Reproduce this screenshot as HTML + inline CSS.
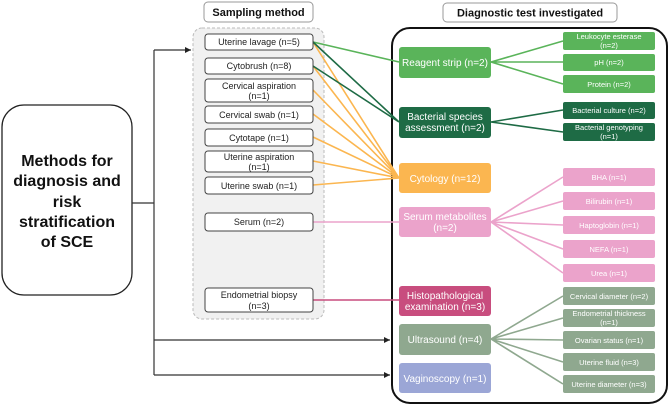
<!DOCTYPE html>
<html><head><meta charset="utf-8"><style>
body{margin:0;background:#fff;width:669px;height:406px;overflow:hidden}
svg text{font-family:"Liberation Sans",sans-serif}
</style></head><body>
<svg width="669" height="406" viewBox="0 0 669 406" xmlns="http://www.w3.org/2000/svg">
<defs><marker id="a" markerWidth="6" markerHeight="6" refX="5" refY="3" orient="auto"><path d="M0,0.5 L5,3 L0,5.5z" fill="#222"/></marker></defs>
<!-- main box -->
<rect x="2" y="105" width="130" height="190" rx="22" fill="#fff" stroke="#222" stroke-width="1.3"/>
<g font-weight="bold" font-size="16" fill="#111" text-anchor="middle">
<text x="67" y="166">Methods for</text><text x="67" y="186">diagnosis and</text><text x="67" y="207">risk</text><text x="67" y="227">stratification</text><text x="67" y="247">of SCE</text></g>
<!-- connectors from main -->
<g stroke="#333" stroke-width="1.2" fill="none">
<path d="M132,203 H154"/><path d="M154,50 V375"/>
<path d="M154,50 H191" marker-end="url(#a)"/>
<path d="M154,340 H390" marker-end="url(#a)"/>
<path d="M154,375 H390" marker-end="url(#a)"/>
</g>
<!-- headers -->
<rect x="204" y="2" width="109" height="20" rx="4" fill="#fff" stroke="#999"/>
<text x="258.5" y="16" font-size="11" font-weight="bold" text-anchor="middle" fill="#111">Sampling method</text>
<rect x="443" y="3" width="174" height="19" rx="4" fill="#fff" stroke="#999"/>
<text x="530" y="16.5" font-size="11" font-weight="bold" text-anchor="middle" fill="#111">Diagnostic test investigated</text>
<!-- gray dashed -->
<rect x="193" y="28" width="131" height="291" rx="9" fill="#f1f1f1" stroke="#bbb" stroke-dasharray="3,2"/>
<!-- big right box -->
<rect x="392" y="28" width="275" height="375" rx="18" fill="#fff" stroke="#111" stroke-width="2"/>
<!-- lines sampling -> tests -->
<g stroke-width="1.6" fill="none">
<path d="M313,42 L399,178 M313,66 L399,178 M313,90 L399,178 M313,114 L399,178 M313,137 L399,178 M313,161 L399,178 M313,185 L399,178" stroke="#fbb650"/>
<path d="M313,42 L399,62" stroke="#5ab45a"/>
<path d="M313,42 L399,122 M313,66 L399,122" stroke="#1e6b45"/>
<path d="M313,222 L399,222" stroke="#eba3cb"/>
<path d="M313,300 L399,300" stroke="#c84d7e"/>
<!-- tests -> subs -->
<path d="M491,62 L563,41 M491,62 L563,62 M491,62 L563,84" stroke="#5ab45a"/>
<path d="M491,122 L563,110 M491,122 L563,132" stroke="#1e6b45"/>
<path d="M491,222 L563,177 M491,222 L563,201 M491,222 L563,225 M491,222 L563,249 M491,222 L563,273" stroke="#eba3cb"/>
<path d="M491,339 L563,296 M491,339 L563,318 M491,339 L563,340 M491,339 L563,362 M491,339 L563,384" stroke="#8fa88f"/>
</g>
<!-- sampling boxes -->
<g fill="#fff" stroke="#444" stroke-width="1">
<rect x="205" y="34" width="108" height="16" rx="3"/>
<rect x="205" y="58" width="108" height="16" rx="3"/>
<rect x="205" y="79" width="108" height="23" rx="3"/>
<rect x="205" y="106" width="108" height="17" rx="3"/>
<rect x="205" y="129" width="108" height="17" rx="3"/>
<rect x="205" y="151" width="108" height="21" rx="3"/>
<rect x="205" y="177" width="108" height="17" rx="3"/>
<rect x="205" y="213" width="108" height="18" rx="3"/>
<rect x="205" y="288" width="108" height="24" rx="3"/>
</g>
<g font-size="9" fill="#222" text-anchor="middle">
<text x="259" y="45">Uterine lavage (n=5)</text>
<text x="259" y="69">Cytobrush (n=8)</text>
<text x="259" y="89">Cervical aspiration</text><text x="259" y="99">(n=1)</text>
<text x="259" y="118">Cervical swab (n=1)</text>
<text x="259" y="141">Cytotape (n=1)</text>
<text x="259" y="160">Uterine aspiration</text><text x="259" y="170">(n=1)</text>
<text x="259" y="189">Uterine swab (n=1)</text>
<text x="259" y="225">Serum (n=2)</text>
<text x="259" y="298">Endometrial biopsy</text><text x="259" y="309">(n=3)</text>
</g>
<!-- test boxes -->
<rect x="399" y="47" width="92" height="31" rx="3" fill="#5ab45a"/>
<rect x="399" y="107" width="92" height="31" rx="3" fill="#1e6b45"/>
<rect x="399" y="163" width="92" height="30" rx="3" fill="#fbb650"/>
<rect x="399" y="207" width="92" height="30" rx="3" fill="#eba3cb"/>
<rect x="399" y="286" width="92" height="30" rx="3" fill="#c84d7e"/>
<rect x="399" y="324" width="92" height="31" rx="3" fill="#8fa88f"/>
<rect x="399" y="363" width="92" height="30" rx="3" fill="#9ba6d6"/>
<g font-size="10" fill="#fff" text-anchor="middle">
<text x="445" y="66">Reagent strip (n=2)</text>
<text x="445" y="120">Bacterial species</text><text x="445" y="131">assessment  (n=2)</text>
<text x="445" y="182">Cytology (n=12)</text>
<text x="445" y="220">Serum metabolites</text><text x="445" y="231">(n=2)</text>
<text x="445" y="299">Histopathological</text><text x="445" y="310">examination (n=3)</text>
<text x="445" y="343">Ultrasound (n=4)</text>
<text x="445" y="382">Vaginoscopy (n=1)</text>
</g>
<!-- sub boxes -->
<g>
<rect x="563" y="32" width="92" height="18" rx="2" fill="#5ab45a"/>
<rect x="563" y="54" width="92" height="17" rx="2" fill="#5ab45a"/>
<rect x="563" y="75" width="92" height="18" rx="2" fill="#5ab45a"/>
<rect x="563" y="102" width="92" height="17" rx="2" fill="#1e6b45"/>
<rect x="563" y="123" width="92" height="18" rx="2" fill="#1e6b45"/>
<rect x="563" y="168" width="92" height="18" rx="2" fill="#eba3cb"/>
<rect x="563" y="192" width="92" height="18" rx="2" fill="#eba3cb"/>
<rect x="563" y="216" width="92" height="18" rx="2" fill="#eba3cb"/>
<rect x="563" y="240" width="92" height="18" rx="2" fill="#eba3cb"/>
<rect x="563" y="264" width="92" height="18" rx="2" fill="#eba3cb"/>
<rect x="563" y="287" width="92" height="18" rx="2" fill="#8fa88f"/>
<rect x="563" y="309" width="92" height="18" rx="2" fill="#8fa88f"/>
<rect x="563" y="331" width="92" height="18" rx="2" fill="#8fa88f"/>
<rect x="563" y="353" width="92" height="18" rx="2" fill="#8fa88f"/>
<rect x="563" y="375" width="92" height="18" rx="2" fill="#8fa88f"/>
</g>
<g font-size="7.5" fill="#fff" text-anchor="middle">
<text x="609" y="39">Leukocyte esterase</text><text x="609" y="48">(n=2)</text>
<text x="609" y="65">pH (n=2)</text>
<text x="609" y="87">Protein (n=2)</text>
<text x="609" y="113">Bacterial culture (n=2)</text>
<text x="609" y="130">Bacterial genotyping</text><text x="609" y="139">(n=1)</text>
<text x="609" y="180">BHA (n=1)</text>
<text x="609" y="204">Bilirubin (n=1)</text>
<text x="609" y="228">Haptoglobin (n=1)</text>
<text x="609" y="252">NEFA (n=1)</text>
<text x="609" y="276">Urea (n=1)</text>
<text x="609" y="299">Cervical diameter (n=2)</text>
<text x="609" y="316">Endometrial thickness</text><text x="609" y="325">(n=1)</text>
<text x="609" y="343">Ovarian status (n=1)</text>
<text x="609" y="365">Uterine fluid (n=3)</text>
<text x="609" y="387">Uterine diameter (n=3)</text>
</g>
</svg>
</body></html>
